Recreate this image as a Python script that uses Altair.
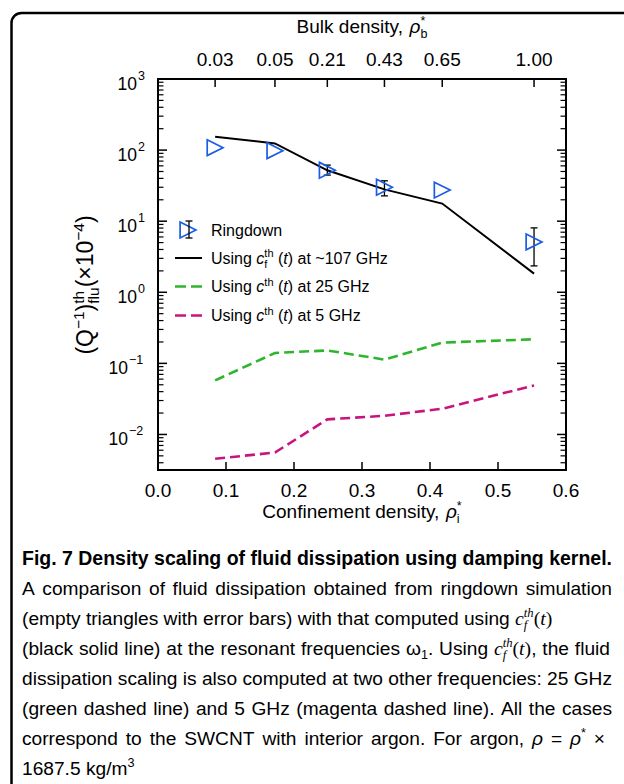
import altair as alt
import pandas as pd

# ---------------- data ----------------
conf_density = [0.084, 0.172, 0.249, 0.333, 0.418, 0.553]
bulk_density_labels = ["0.03", "0.05", "0.21", "0.43", "0.65", "1.00"]
ringdown_q = [108, 98, 52, 30, 27.4, 5.1]
err_density = [0.249, 0.333, 0.553]
err_low = [44.5, 22.7, 2.35]
err_high = [61.5, 37.0, 8.05]
kernel_107ghz = [154, 124, 52, 28, 17.7, 1.83]
kernel_25ghz = [0.0576, 0.140, 0.152, 0.113, 0.196, 0.218]
kernel_5ghz = [0.00455, 0.00557, 0.0163, 0.0183, 0.0230, 0.049]
x_ticks = [0.0, 0.1, 0.2, 0.3, 0.4, 0.5, 0.6]
y_decades = [-2, -1, 0, 1, 2, 3]

# ---------------- layout ----------------
PL, PT = 158, 79
W, H = 408, 391
Y_MIN, Y_MAX = 0.0031623, 1000
SANS = "Liberation Sans"
SERIF = "Liberation Serif"
BLUE = "#1a5ce6"
GREEN = "#2eb52e"
MAGENTA = "#c8147f"

xs = alt.Scale(domain=[0, 0.6], nice=False, zero=False)
ys = alt.Scale(type="log", domain=[Y_MIN, Y_MAX], nice=False)

main_df = pd.DataFrame({
    "rho_i": conf_density, "bulk": bulk_density_labels, "ringdown": ringdown_q,
    "k107": kernel_107ghz, "k25": kernel_25ghz, "k5": kernel_5ghz,
})
err_df = pd.DataFrame({"rho_i": err_density, "lo": err_low, "hi": err_high})
xt_df = pd.DataFrame({"v": x_ticks})
dec_df = pd.DataFrame({"k": y_decades})
dec_df["v"] = [10.0 ** k for k in y_decades]
dec_df["e"] = [str(k).replace("-", "\u2212") for k in y_decades]
major = [10.0 ** k for k in y_decades]
minor = [m * 10.0 ** k for k in range(-3, 3) for m in range(2, 10) if Y_MIN <= m * 10.0 ** k <= Y_MAX]
maj_df = pd.DataFrame({"v": major})
min_df = pd.DataFrame({"v": minor})
DUMMY = pd.DataFrame({"d": [0]})

X = lambda f: alt.X(f, scale=xs, axis=None)
Y = lambda f: alt.Y(f, scale=ys, axis=None)

layers = []

# frame of the figure
layers.append(alt.Chart(DUMMY).mark_rect(fillOpacity=0, stroke="black", strokeWidth=2.5, cornerRadius=10).encode(
    x=alt.value(11.5 - PL), x2=alt.value(700 - PL), y=alt.value(13 - PT), y2=alt.value(850 - PT)))

# curves
layers.append(alt.Chart(main_df).mark_line(color="black", strokeWidth=2).encode(x=X("rho_i:Q"), y=Y("k107:Q")))
layers.append(alt.Chart(main_df).mark_line(color=GREEN, strokeWidth=2.6, strokeDash=[10, 5]).encode(x=X("rho_i:Q"), y=Y("k25:Q")))
layers.append(alt.Chart(main_df).mark_line(color=MAGENTA, strokeWidth=2.6, strokeDash=[10, 5]).encode(x=X("rho_i:Q"), y=Y("k5:Q")))

# error bars
layers.append(alt.Chart(err_df).mark_rule(color="black", strokeWidth=1.3).encode(x=X("rho_i:Q"), y=Y("lo:Q"), y2="hi:Q"))
for f in ["lo", "hi"]:
    layers.append(alt.Chart(err_df).mark_rule(color="black", strokeWidth=1.3, xOffset=-3.5, x2Offset=3.5).encode(
        x=X("rho_i:Q"), x2="rho_i:Q", y=Y(f + ":Q")))

TRI = "M-1,-1L1,0L-1,1Z"
layers.append(alt.Chart(main_df).mark_point(shape=TRI, size=250, filled=False, color=BLUE, strokeWidth=1.7, opacity=1).encode(
    x=X("rho_i:Q"), y=Y("ringdown:Q")))

# axis ticks (inward)
layers.append(alt.Chart(maj_df).mark_rule(color="black", strokeWidth=1.5).encode(x=alt.value(0), x2=alt.value(9), y=Y("v:Q")))
layers.append(alt.Chart(maj_df).mark_rule(color="black", strokeWidth=1.5).encode(x=alt.value(W - 9), x2=alt.value(W), y=Y("v:Q")))
layers.append(alt.Chart(min_df).mark_rule(color="black", strokeWidth=1.2).encode(x=alt.value(0), x2=alt.value(5.5), y=Y("v:Q")))
layers.append(alt.Chart(min_df).mark_rule(color="black", strokeWidth=1.2).encode(x=alt.value(W - 5.5), x2=alt.value(W), y=Y("v:Q")))
layers.append(alt.Chart(xt_df).transform_filter("datum.v > 0.05 && datum.v < 0.55").mark_rule(color="black", strokeWidth=1.5).encode(
    x=X("v:Q"), y=alt.value(H - 8), y2=alt.value(H)))
layers.append(alt.Chart(main_df).mark_rule(color="black", strokeWidth=1.5).encode(x=X("rho_i:Q"), y=alt.value(0), y2=alt.value(8)))

# tick labels
TL = 19
layers.append(alt.Chart(xt_df).mark_text(font=SANS, fontSize=TL, align="center", baseline="alphabetic").encode(
    x=X("v:Q"), y=alt.value(H + 27), text=alt.Text("v:Q", format=".1f")))
layers.append(alt.Chart(main_df).mark_text(font=SANS, fontSize=TL, align="center", baseline="alphabetic").encode(
    x=X("rho_i:Q"), y=alt.value(66 - PT), text="bulk:N"))
for cond, xb, xe in [("datum.k >= 0", -21, -20), ("datum.k < 0", -30, -29)]:
    layers.append(alt.Chart(dec_df).transform_filter(cond).mark_text(font=SANS, fontSize=17.5, align="right", baseline="alphabetic", dy=11).encode(
        x=alt.value(xb), y=Y("v:Q"), text=alt.value("10")))
    layers.append(alt.Chart(dec_df).transform_filter(cond).mark_text(font=SANS, fontSize=12.5, align="left", baseline="alphabetic", dy=0.5).encode(
        x=alt.value(xe), y=Y("v:Q"), text="e:N"))

# ---------------- rich text helpers ----------------
ARIAL = {" ": 278, "!": 278, "(": 333, ")": 333, "*": 389, ",": 278, "-": 333, ".": 278, "/": 278, ":": 278,
         "~": 584, "\u00d7": 584, "\u2212": 584, "=": 584, "\u03c1": 569, "\u03c9": 781}
for c in "0123456789":
    ARIAL[c] = 556
ARIAL.update(dict(zip("ABCDEFGHIJKLMNOPQRSTUVWXYZ",
                      [667, 667, 722, 722, 667, 611, 778, 722, 278, 500, 667, 556, 833, 722, 778, 667, 778, 722, 667, 611, 722, 667, 944, 667, 667, 611])))
ARIAL.update(dict(zip("abcdefghijklmnopqrstuvwxyz",
                      [556, 556, 500, 556, 556, 278, 556, 556, 222, 222, 500, 222, 833, 556, 556, 556, 556, 333, 500, 278, 556, 500, 722, 500, 500, 500])))
ARIAL_B = dict(ARIAL)
ARIAL_B.update({"F": 611, "D": 722, "i": 278, "g": 611, "e": 556, "n": 611, "s": 556, "t": 333, "y": 556, "c": 556,
                "a": 556, "l": 278, "o": 611, "f": 333, "u": 611, "d": 611, "p": 611, "m": 889, "k": 556, "r": 389})
TIMES = {"c": 444, "t": 278, "h": 500, "f": 278, "(": 333, ")": 333, " ": 250, ",": 250}


def width(s, size, font=SANS, bold=False):
    tab = TIMES if font == SERIF else (ARIAL_B if bold else ARIAL)
    return sum(tab.get(ch, 556) for ch in s) * size / 1000.0


def S(t, size, font=SANS, it=False, rise=0.0, bold=False):
    return dict(t=t, size=size, font=font, it=it, rise=rise, bold=bold)


def txt(x, y, s, size, font=SANS, italic=False, bold=False, align="left", angle=0):
    kw = dict(font=font, fontSize=size, align=align, baseline="alphabetic", color="black")
    if italic:
        kw["fontStyle"] = "italic"
    if bold:
        kw["fontWeight"] = "bold"
    if angle:
        kw["angle"] = angle
    return alt.Chart(DUMMY).mark_text(**kw).encode(x=alt.value(x - PL), y=alt.value(y - PT), text=alt.value(s))


def seg_w(seg):
    if isinstance(seg, list):
        return max(width(s["t"], s["size"], s["font"], s["bold"]) for s in seg)
    return width(seg["t"], seg["size"], seg["font"], seg["bold"])


def rich(x, y, segs, angle=0, center=False):
    total = sum(seg_w(s) for s in segs)
    pos = -total / 2 if center else 0.0
    out = []
    for seg in segs:
        group = seg if isinstance(seg, list) else [seg]
        for s in group:
            t = s["t"]
            lead = len(t) - len(t.lstrip(" "))
            off = width(" " * lead, s["size"], s["font"], s["bold"])
            t = t.strip(" ")
            if not t:
                continue
            if angle == 0:
                px, py = x + pos + off, y - s["rise"]
            else:
                px, py = x - s["rise"], y - pos - off
            out.append(txt(px, py, t, s["size"], s["font"], s["it"], s["bold"], angle=angle))
        pos += seg_w(seg)
    return out


# axis titles
AT = 19
layers += rich(362, 33, [S("Bulk density, ", AT), S("\u03c1", AT, it=True),
                         [S("*", 12.5, rise=8), S("b", 12.5, rise=-5)]], center=True)
layers += rich(362, 518, [S("Confinement density, ", AT), S("\u03c1", AT, it=True),
                          [S("*", 12.5, rise=8), S("i", 12.5, rise=-5)]], center=True)
YT, YS = 23, 15.5
layers += rich(93, 285, [S("(Q", YT), S("\u22121", YS, rise=9), S(")", YT),
                         [S("th", YS, rise=9), S("flu", YS, rise=-6)],
                         S("(\u00d710", YT), S("\u22124", YS, rise=9), S(")", YT)], angle=270, center=True)

# legend
LF, LS = 16, 11
layers.append(alt.Chart(DUMMY).mark_point(shape=TRI, size=250, filled=False, color=BLUE, strokeWidth=1.7, opacity=1).encode(
    x=alt.value(188 - PL), y=alt.value(230 - PT)))
layers.append(alt.Chart(DUMMY).mark_rule(color="black", strokeWidth=1.3).encode(
    x=alt.value(189 - PL), y=alt.value(221 - PT), y2=alt.value(238 - PT)))
for yy in [221, 238]:
    layers.append(alt.Chart(DUMMY).mark_rule(color="black", strokeWidth=1.3).encode(
        x=alt.value(185.5 - PL), x2=alt.value(192.5 - PL), y=alt.value(yy - PT)))
layers.append(alt.Chart(DUMMY).mark_rule(color="black", strokeWidth=2).encode(
    x=alt.value(175 - PL), x2=alt.value(202 - PL), y=alt.value(258 - PT)))
for yy, col in [(286.5, GREEN), (315.5, MAGENTA)]:
    layers.append(alt.Chart(DUMMY).mark_rule(color=col, strokeWidth=2.6, strokeDash=[11, 5]).encode(
        x=alt.value(175 - PL), x2=alt.value(202 - PL), y=alt.value(yy - PT)))
layers.append(txt(211, 235.5, "Ringdown", LF))
layers += rich(211, 263.5, [S("Using ", LF), S("c", LF, it=True), [S("th", LS, rise=6.5), S("f", LS, rise=-4)],
                            S(" (", LF), S("t", LF, it=True), S(") at ~107 GHz", LF)])
layers += rich(211, 292, [S("Using ", LF), S("c", LF, it=True), S("th", LS, rise=6.5),
                          S(" (", LF), S("t", LF, it=True), S(") at 25 GHz", LF)])
layers += rich(211, 321, [S("Using ", LF), S("c", LF, it=True), S("th", LS, rise=6.5),
                          S(" (", LF), S("t", LF, it=True), S(") at 5 GHz", LF)])

# ---------------- caption (justified lines) ----------------
CX, CW = 22, 590.0
line1 = "Fig. 7 Density scaling of fluid dissipation using damping kernel."
line2 = "A comparison of fluid dissipation obtained from ringdown simulation"
line5 = "dissipation scaling is also computed at two other frequencies: 25 GHz"
line6 = "(green dashed line) and 5 GHz (magenta dashed line). All the cases"
CF = min(CW / width(l, 1.0) for l in [line2, line5, line6])
CB = CW / width(line1, 1.0, bold=True)
MS, MSS = CF * 1.03, CF * 0.66


def plain(text, size=None, bold=False):
    return [[S(wd, size or CF, bold=bold)] for wd in text.split(" ")]


def cfun(tail=""):
    segs = [S("c", MS, SERIF, it=True), [S("th", MSS, SERIF, it=True, rise=8), S("f", MSS, SERIF, it=True, rise=-4)],
            S("(", MS, SERIF), S("t", MS, SERIF, it=True), S(")", MS, SERIF)]
    if tail:
        segs.append(S(tail, CF))
    return segs


def jline(y, words, target=None, size=None):
    size = size or CF
    ws = [sum(seg_w(s) for s in w) for w in words]
    sp = width(" ", size)
    gap = sp
    if target is not None and len(words) > 1:
        gap = max(sp * 0.6, (target - sum(ws)) / (len(words) - 1))
    x = CX
    out = []
    for w, wd in zip(words, ws):
        out += rich(x, y, w)
        x += wd + gap
    return out


centers = [558 + 30 * i for i in range(8)]
bases = [c + 7 for c in centers]
layers += jline(bases[0], plain(line1, CB, bold=True), CW, CB)
layers += jline(bases[1], plain(line2), CW)
layers += jline(bases[2], plain("(empty triangles with error bars) with that computed using") + [cfun()])
layers += jline(bases[3], plain("(black solid line) at the resonant frequencies") +
                [[S("\u03c9", CF), S("1", MSS, rise=-4), S(".", CF)]] + plain("Using") + [cfun(",")] +
                plain("the fluid"), CW - 2)
layers += jline(bases[4], plain(line5), CW)
layers += jline(bases[5], plain(line6), CW)
layers += jline(bases[6], plain("correspond to the SWCNT with interior argon. For argon,") +
                [[S("\u03c1", CF, it=True)], [S("=", CF)], [S("\u03c1", CF, it=True), S("*", MSS, rise=8)], [S("\u00d7", CF)]],
                CW - 7)
layers += rich(CX, bases[7], [S("1687.5 kg/m", CF), S("3", MSS, rise=8)])

chart = alt.layer(*layers).properties(
    width=W, height=H,
    autosize=alt.AutoSizeParams(type="none"),
    padding={"left": PL, "top": PT, "right": 624 - PL - W, "bottom": 784 - PT - H},
    background="white",
).configure_view(stroke="black", strokeWidth=2)

chart.save("out.html", embed_options={"renderer": "svg", "actions": False})
